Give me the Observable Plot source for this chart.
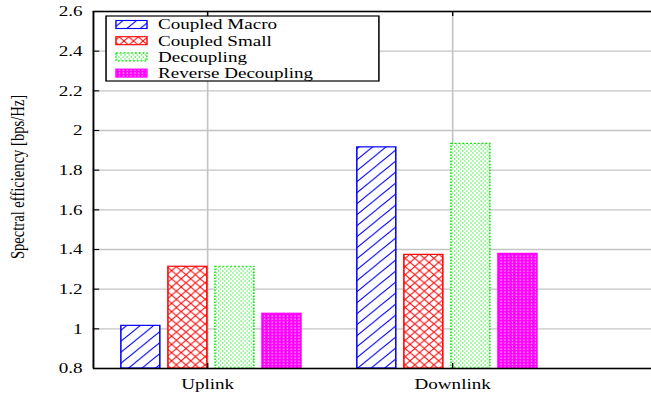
<!DOCTYPE html>
<html><head><meta charset="utf-8">
<script src="https://cdn.jsdelivr.net/npm/d3@7"></script>
<script src="https://cdn.jsdelivr.net/npm/@observablehq/plot@0.6"></script>
<style>
html,body{margin:0;padding:0;background:#fff;}
#chart{width:651px;height:398px;overflow:hidden;}
#chart svg, #chart svg text{font-family:"Liberation Serif","Times New Roman",Times,"DejaVu Serif",serif !important;}
</style></head><body><div id="chart"></div>
<script>
const categories = ["Uplink", "Downlink"];
const seriesNames = ["Coupled Macro", "Coupled Small", "Decoupling", "Reverse Decoupling"];
const coupledMacro = [1.015, 1.915];
const coupledSmall = [1.313, 1.373];
const decoupling = [1.313, 1.933];
const reverseDecoupling = [1.076, 1.378];
const yTicks = [0.8, 1, 1.2, 1.4, 1.6, 1.8, 2, 2.2, 2.4, 2.6];
const yLabel = "Spectral efficiency [bps/Hz]";

const seriesValues = [coupledMacro, coupledSmall, decoupling, reverseDecoupling];
const seriesColors = ["#0000ff", "#ff0000", "#00e600", "#ff00ff"];
const patternIds = ["pat-macro", "pat-small", "pat-dec", "pat-rev"];

const W = 512, H = 398;
const mL = 73, mR = 0, mT = 11, mB = 30;
const frameW = W - mL - mR, frameH = H - mT - mB;
const xDomain = [-0.466, 1.812];
const yDomain = [yTicks[0], yTicks[yTicks.length - 1]];
const groupSpacing = 0.963, groupOffset = 0.016;
const slot = 0.192, barW = 0.159;
const font = "'Liberation Serif', 'Times New Roman', Times, 'DejaVu Serif', serif";

const rows = [];
seriesValues.forEach((vals, si) => categories.forEach((c, ci) =>
  rows.push({cat: c, ci, si, series: seriesNames[si], value: vals[ci]})));

const barCenter = d => d.ci * groupSpacing + groupOffset + (d.si - 1.5) * slot;
const barMarks = seriesNames.map((name, si) => Plot.rect(rows.filter(d => d.si === si), {
  x1: d => barCenter(d) - barW / 2,
  x2: d => barCenter(d) + barW / 2,
  y1: yDomain[0],
  y2: "value",
  fill: `url(#${patternIds[si]})`,
  stroke: seriesColors[si],
  strokeWidth: 1.2,
  strokeDasharray: si === 2 ? "1.5,1.5" : null
}));

const catIdx = categories.map((c, i) => i);

const svg = Plot.plot({
  width: W, height: H,
  marginLeft: mL, marginRight: mR, marginTop: mT, marginBottom: mB,
  style: {fontFamily: font, fontSize: "15px", background: "white", color: "black"},
  x: {type: "linear", domain: xDomain},
  y: {domain: yDomain},
  marks: [
    Plot.gridY(yTicks, {stroke: "#c4c4c4", strokeOpacity: 1, strokeWidth: 1.3}),
    Plot.gridX(catIdx, {stroke: "#c4c4c4", strokeOpacity: 1, strokeWidth: 1.3}),
    ...barMarks,
    Plot.tickY(yTicks.slice(1, -1), {y: d => d, stroke: "black", strokeWidth: 1.1, insetRight: frameW - 5}),
    Plot.tickX(catIdx, {x: d => d, stroke: "black", strokeWidth: 1.1, insetTop: frameH - 5}),
    Plot.tickX(catIdx, {x: d => d, stroke: "black", strokeWidth: 1.1, insetBottom: frameH - 5}),
    Plot.ruleY(yDomain, {stroke: "black", strokeWidth: 1.5}),
    Plot.ruleX([xDomain[0]], {stroke: "black", strokeWidth: 1.5}),
    Plot.axisY(yTicks, {tickSize: 0, tickPadding: 8.5, tickFormat: d3.format("~g"), label: null, fontSize: 15}),
    Plot.axisX(catIdx, {tickSize: 0, tickPadding: 10, tickFormat: i => categories[i], label: null, fontSize: 15})
  ]
});

// patterns
const defs = `
<defs>
  <pattern id="pat-macro" patternUnits="userSpaceOnUse" width="10.6" height="11">
    <rect width="10.6" height="11" fill="white"/>
    <path d="M0,11 L10.6,0 M-1,1 L1,-1 M9.6,12 L11.6,10" stroke="#0000ff" stroke-width="0.9"/>
  </pattern>
  <pattern id="pat-small" patternUnits="userSpaceOnUse" width="7.5" height="8.2">
    <rect width="7.5" height="8.2" fill="white"/>
    <path d="M0,0 L7.5,8.2 M0,8.2 L7.5,0" stroke="#ff0000" stroke-width="0.9"/>
  </pattern>
  <pattern id="pat-dec" patternUnits="userSpaceOnUse" width="3.2" height="4">
    <rect width="3.2" height="4" fill="white"/>
    <rect x="0.3" y="0.5" width="1" height="1" fill="#00e600"/>
    <rect x="1.9" y="2.5" width="1" height="1" fill="#00e600"/>
  </pattern>
  <pattern id="pat-rev" patternUnits="userSpaceOnUse" width="3" height="3">
    <rect width="3" height="3" fill="#ff00ff"/>
    <rect x="0.6" y="0.6" width="1" height="1" fill="white"/>
  </pattern>
</defs>`;
svg.insertAdjacentHTML("afterbegin", defs);

const root = d3.select(svg);

// y-axis title
root.append("text")
  .attr("transform", "translate(15.3,177) rotate(-90)")
  .attr("text-anchor", "middle")
  .attr("dominant-baseline", "middle")
  .attr("font-size", 14.6)
  .attr("fill", "black")
  .text(yLabel);

// legend
const lg = root.append("g").attr("class", "legend");
lg.append("rect").attr("x", 83.4).attr("y", 16).attr("width", 214.6).attr("height", 65)
  .attr("fill", "white").attr("stroke", "black").attr("stroke-width", 1.2);
seriesNames.forEach((name, i) => {
  const cy = 24.5 + i * 16.2;
  lg.append("rect").attr("x", 91.2).attr("y", cy - 4).attr("width", 24.4).attr("height", 8)
    .attr("fill", `url(#${patternIds[i]})`).attr("stroke", seriesColors[i]).attr("stroke-width", 1.1)
    .attr("stroke-dasharray", i === 2 ? "1.5,1.5" : null);
  lg.append("text").attr("x", 124.3).attr("y", cy + 5).attr("text-anchor", "start")
    .attr("font-size", 15).attr("fill", "black").text(name);
});

// force the serif face on every text element (axis labels included)
root.selectAll("text, tspan")
  .style("font-family", font)
  .style("font-variant", "normal")
  .style("font-weight", "normal");

// stretch horizontally to the target canvas
svg.setAttribute("preserveAspectRatio", "none");
svg.style.width = "651px";
svg.style.height = "398px";
svg.style.maxWidth = "none";
document.getElementById("chart").appendChild(svg);
</script></body></html>
